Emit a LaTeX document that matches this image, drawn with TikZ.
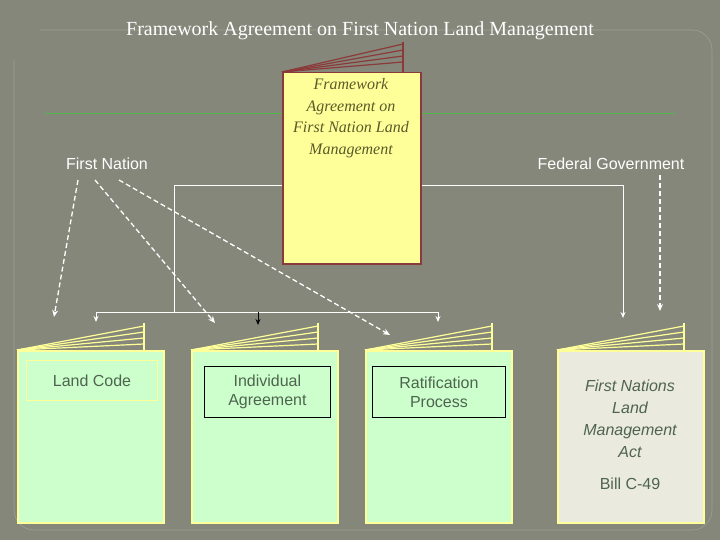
\documentclass[tikz,border=0pt]{standalone}
\usepackage{fontspec}
\setmainfont{Liberation Serif}
\setsansfont{Liberation Sans}
\usetikzlibrary{arrows.meta}
\definecolor{bg}{HTML}{85877A}
\definecolor{bookg}{HTML}{CCFFCC}
\definecolor{bookgray}{HTML}{EAEADF}
\definecolor{booky}{HTML}{FFFF99}
\definecolor{pagey}{HTML}{FFFF99}
\definecolor{dred}{HTML}{8B3A3A}
\definecolor{txtg}{HTML}{4F6450}
\definecolor{txty}{HTML}{5A5A2A}
\begin{document}
\begin{tikzpicture}[x=1pt,y=-1pt,
  wline/.style={white,line width=1pt},
  warr/.style={white,line width=1pt,-{Stealth[length=6pt,width=5pt]}},
  darr/.style={white,line width=1.3pt,dash pattern=on 5pt off 3pt,-{Stealth[length=7pt,width=6pt]}},
  lbl/.style={font=\sffamily\fontsize{16}{19}\selectfont,text=txtg,align=center},
  hdr/.style={font=\sffamily\fontsize{16}{19}\selectfont,text=white}]
\fill[bg] (0,0) rectangle (720,540);
\draw[bg!80!white,line width=0.6pt,rounded corners=20pt] (14,60) -- (14,530) -- (712,530) -- (712,30) -- (40,30);
\draw[green!40!bg,line width=0.6pt] (45,113) -- (675,113);
\node[font=\fontsize{20}{24}\selectfont,text=white] (title) at (360,31) {Framework Agreement on First Nation Land Management};
% big booklet
\foreach \y in {44,50,56,62}{\draw[dred,line width=1.2pt] (282,72) -- (403,\y);}
\draw[dred,line width=1.2pt] (403,42) -- (403,72);
\node[draw=dred,line width=1.5pt,fill=booky,minimum width=138pt,minimum height=191pt,anchor=north west,inner sep=0] (fa) at (282,72) {};
\node[font=\itshape\fontsize{16}{21.5}\selectfont,text=txty,align=center,anchor=north] (fat) at (351,75) {Framework\\Agreement on\\First Nation Land\\Management};
% small booklets
\foreach \L/\T/\C/\n in {17/144/bookg/b1,191/318/bookg/b2,365/492/bookg/b3,557/684/bookgray/b4}{
  \foreach \y in {326,332,338,344}{\draw[pagey,line width=1.2pt] (\L,350) -- (\T,\y);}
  \draw[pagey,line width=1.2pt] (\T,323) -- (\T,350);
  \node[draw=pagey,line width=1.5pt,fill=\C,minimum width=146pt,minimum height=172pt,anchor=north west,inner sep=0] (\n) at (\L,350) {};
}
\node[draw=pagey,line width=1pt,minimum width=131pt,minimum height=40pt,anchor=north west,inner sep=0] (lcb) at (26,360) {};
\node[lbl] (lc) at (lcb.center) {Land Code};
\node[draw=black,line width=0.8pt,minimum width=126pt,minimum height=51pt,anchor=north west,inner sep=0,lbl] (ia) at (204,366) {Individual\\Agreement};
\node[draw=black,line width=0.8pt,minimum width=133pt,minimum height=51pt,anchor=north west,inner sep=0,lbl] (rp) at (372,366) {Ratification\\Process};
\node[lbl,font=\sffamily\itshape\fontsize{16}{22}\selectfont,anchor=north] (fnlma) at (630,376) {First Nations\\Land\\Management\\Act};
\node[lbl,anchor=north] (bill) at (630,474) {Bill C-49};
% headers
\node[hdr] (fn) at (107,164) {First Nation};
\node[hdr] (fg) at (611,164) {Federal Government};
% tree connectors
\coordinate (l1) at (174,186);
\coordinate (l2) at (174,312);
\coordinate (h1) at (96,312);
\coordinate (h2) at (438,312);
\coordinate (r1) at (623,186);
\draw[wline] (fa.west |- l1) -- (l1) -- (l2);
\draw[wline] (h1) -- (h2);
\draw[warr] (h1) -- (96,322);
\draw[warr] (h2) -- (438,322);
\draw[black,line width=1pt,-{Stealth[length=6pt,width=5pt]}] (258,312) -- (258,325);
\draw[warr] (fa.east |- r1) -- (r1) -- (623,318);
% dashed
\draw[darr] (78,180) -- (54,317);
\draw[darr] (95,180) -- (215,323);
\draw[darr] (119,180) -- (390,335);
\draw[darr] (660,175) -- (660,311);
\end{tikzpicture}
\end{document}
